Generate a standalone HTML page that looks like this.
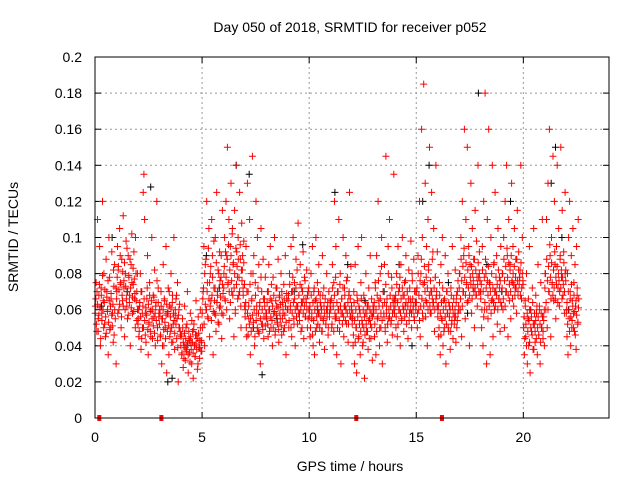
<!DOCTYPE html>
<html><head><meta charset="utf-8"><style>
html,body{margin:0;padding:0;background:#fff}
svg{display:block;font-family:"Liberation Sans",sans-serif}
</style></head><body>
<svg id="c" width="640" height="480" xmlns="http://www.w3.org/2000/svg">
<text x="350" y="32" font-size="14" text-anchor="middle">Day 050 of 2018, SRMTID for receiver p052</text>
<text x="350" y="471" font-size="14" text-anchor="middle">GPS time / hours</text>
<text transform="translate(18,237) rotate(-90)" font-size="14" text-anchor="middle">SRMTID / TECUs</text>
<g id="grid"></g>
<g id="ticks"></g>
<path id="blk" fill="none" stroke="#000" stroke-width="1"/>
<path id="red" fill="none" stroke="#f00" stroke-width="1"/>
<g id="zeros"></g>
<rect x="95" y="57" width="514" height="361" fill="none" stroke="#000" stroke-width="1"/>
</svg>
<script>
const xTicks=[0,5,10,15,20];
const yTicks=[0,0.02,0.04,0.06,0.08,0.1,0.12,0.14,0.16,0.18,0.2];
const yTickLabels=["0","0.02","0.04","0.06","0.08","0.1","0.12","0.14","0.16","0.18","0.2"];
const redHours=[0,1,2,3,4,5,6,7,8,9,10,11,12,13,14,15,16,17,18,19,20,21,22];
const redVals=[
"62 75 48 110 55 68 95 40 72 58 120 65 80 52 45 88 70 60 35 100 78 50 66 92 58 42 73 85 55 30",
"70 95 82 60 105 75 50 88 65 112 72 45 80 98 62 55 90 78 68 40 85 102 58 74 92 66 50 80 70 60",
"55 45 62 80 38 70 50 125 135 110 58 42 66 90 35 52 75 48 60 100 44 68 56 82 40 64 120 50 72 58",
"60 45 70 30 55 85 40 65 50 95 25 58 72 35 62 48 80 42 68 52 100 38 57 66 44 75 20 60 50 46",
"45 35 55 28 40 62 32 50 38 70 25 44 36 58 42 30 48 22 52 40 34 65 46 27 56 39 33 60 43 37",
"50 70 95 40 85 60 120 75 55 105 45 80 65 110 90 35 72 58 100 48 125 68 82 52 92 62 78 44 115 57",
"80 100 65 120 90 150 75 110 55 95 130 70 105 85 45 115 60 140 92 78 100 68 125 88 50 108 82 72 98 62",
"60 95 45 130 70 55 110 35 80 65 145 50 90 40 75 120 58 100 48 85 62 30 105 70 52 88 44 66 78 56",
"55 70 45 85 60 95 50 65 40 78 58 100 48 72 62 52 88 42 68 55 80 46 64 58 74 50 90 35 66 60",
"65 50 80 60 95 45 70 100 55 75 40 88 62 52 108 68 58 85 48 72 64 92 44 78 56 66 82 50 70 60",
"60 45 80 55 95 40 70 35 65 100 50 75 58 85 42 68 62 48 90 55 72 38 66 52 80 60 46 70 56 64",
"65 50 85 40 75 120 55 95 35 70 60 110 48 80 30 66 58 100 45 72 62 90 52 78 42 68 125 56 84 60",
"55 40 70 30 85 50 25 65 95 45 60 35 75 100 52 42 68 22 58 80 48 62 38 72 55 90 44 66 32 58",
"60 45 75 35 90 55 120 65 40 80 50 100 30 70 58 85 48 145 62 42 95 55 110 68 52 78 46 66 135 58",
"65 50 80 45 95 60 72 40 85 55 100 68 48 75 62 90 52 70 44 82 58 66 98 50 76 60 88 54 70 64",
"70 50 90 60 120 45 80 160 100 55 185 75 130 65 95 40 110 85 150 58 70 125 88 62 105 48 78 140 68 92",
"60 45 75 35 85 55 100 40 65 50 90 30 70 58 80 48 62 38 72 52 95 44 66 56 82 42 68 54 76 60",
"80 60 100 45 120 70 90 160 55 110 75 150 65 95 40 85 130 58 105 72 88 50 115 68 98 62 140 78 92 70",
"70 50 95 40 120 60 180 80 30 110 55 160 75 35 100 65 140 45 85 60 125 70 90 52 105 66 78 48 95 62",
"80 60 100 50 120 70 140 90 45 110 65 85 55 130 75 95 62 105 72 88 58 115 68 92 78 82 140 66 100 74",
"50 35 65 45 80 30 55 40 95 25 60 48 72 38 105 52 42 68 58 35 85 46 62 30 75 50 110 44 56 40",
"80 60 110 50 130 70 160 90 45 100 75 145 65 120 85 55 95 140 72 105 62 88 150 78 115 68 92 58 125 82",
"60 45 80 35 100 55 120 70 40 90 50 65 105 58 75 48 85 62 38 95 68 52 110 66"
];
const redVals2=[
"58 66 52 70 63 48 57 74 61 44 68 54 79 60 50 64 71 56 47 67 59 76 53 65 49 62 69 57 51 63 82 46 60 55 72",
"66 78 58 84 71 63 90 74 56 68 81 62 76 86 60 73 66 94 70 57 79 64 88 72 61 75 67 83 59 77 69 100 65 54 80",
"52 60 48 64 56 70 44 58 62 50 66 54 46 61 57 72 49 63 53 68 59 45 65 55 60 51 67 47 58 62 54 76 43 64 56",
"52 58 46 62 55 40 60 49 66 53 44 57 63 48 59 51 70 45 56 61 50 64 42 58 54 47 60 52 68 55 39 57 50 63 48",
"40 46 36 50 42 33 47 39 44 37 52 41 35 48 43 31 45 38 54 42 36 49 40 34 46 41 38 44 30 47 43 39 50 37 42",
"58 66 72 52 80 63 88 60 70 56 94 66 75 62 84 54 68 78 59 98 65 72 57 86 64 70 53 80 61 76 67 90 58 74 69",
"72 84 66 92 78 60 88 74 96 70 82 64 90 76 102 68 86 72 80 58 94 74 84 66 88 78 70 96 62 82 76 90 68 86 74",
"56 64 50 70 58 46 62 52 74 55 48 66 57 80 53 60 45 68 54 62 50 72 58 47 64 55 78 52 60 49 66 56 62 51 58",
"58 64 52 70 60 48 66 56 74 54 62 50 68 59 46 65 57 72 53 61 49 67 58 63 51 70 55 60 48 66 57 62 53 69 60",
"60 68 54 74 62 50 70 58 78 64 52 66 60 72 56 82 62 58 68 54 74 60 64 50 70 58 66 62 76 56 64 60 68 55 72",
"56 62 50 68 58 46 64 54 72 60 48 66 56 62 52 70 58 50 64 56 60 48 68 54 62 58 66 52 60 56 64 50 70 58 62",
"60 66 52 72 62 48 68 58 78 56 64 50 70 60 54 74 62 58 66 52 72 56 62 68 54 60 76 58 64 52 70 60 66 56 62",
"52 58 46 64 54 42 60 50 68 56 44 62 52 58 48 66 54 40 60 50 56 46 64 52 58 48 62 54 44 60 52 58 50 56 62",
"58 64 52 72 60 48 68 56 76 62 50 66 58 84 54 62 70 56 64 50 74 58 66 52 80 60 56 68 62 54 72 58 64 60 66",
"62 68 56 74 64 52 70 60 78 58 66 54 72 62 60 68 56 76 64 58 70 62 66 54 72 60 64 58 80 66 62 56 70 64 60",
"64 72 58 80 68 54 76 62 88 66 58 74 62 84 70 56 78 64 72 60 82 68 62 76 58 70 66 92 64 72 60 78 66 70 62",
"56 62 50 68 58 46 64 54 72 60 48 66 56 62 52 70 58 50 64 56 60 48 68 54 62 58 66 52 60 56 64 50 70 58 62",
"72 80 66 88 76 62 84 70 94 78 68 86 74 64 82 72 90 68 78 74 84 66 80 76 70 88 72 82 68 78 74 86 70 80 76",
"66 74 60 82 70 56 78 64 88 72 60 76 68 84 62 74 70 58 80 66 72 64 86 70 62 78 68 74 60 82 66 72 76 64 70",
"72 80 66 88 76 62 84 70 94 78 68 86 74 82 70 90 76 66 80 74 84 68 78 72 88 76 70 82 74 78 68 86 72 80 76",
"50 56 44 62 52 40 58 48 66 54 42 60 50 56 46 64 52 38 58 48 54 44 62 50 56 46 60 52 42 58 50 56 48 54 60",
"72 80 64 88 76 60 84 70 96 78 66 86 74 68 82 72 92 66 78 74 84 64 80 76 70 90 72 82 66 78 74 86 70 80 76",
"58 64 52 70 60 48 66 56 74 54 62 50 68 59 46 65 57 72 53 61"
];
const redSpans=[1,1,1,1,1,1,1,1,1,1,1,1,1,1,1,1,1,1,1,1,1,1,0.6];
const blackT=[0.3,0.8,1.5,2.6,3.4,3.6,4.3,5.2,5.8,6.6,7.2,7.4,7.8,8.5,9.3,9.7,10.4,11.2,11.8,12.6,13.5,14.2,14.8,15.3,15.6,16.5,17.4,17.9,18.3,19.0,19.4,20.3,21.3,21.5,21.8,22.1];
const blackV=[0.062,0.100,0.070,0.128,0.020,0.022,0.040,0.090,0.072,0.140,0.135,0.050,0.024,0.055,0.070,0.096,0.060,0.125,0.085,0.065,0.070,0.085,0.040,0.120,0.140,0.075,0.058,0.180,0.085,0.070,0.120,0.060,0.130,0.150,0.100,0.060];
const zeroT=[0.2,3.1,12.2,16.2];

const X0=95,X1=609,Y0=418,Y1=57;
const sx=t=>X0+t/24*(X1-X0);
const sy=v=>Y0-v/0.2*(Y0-Y1);
const NS="http://www.w3.org/2000/svg";
function mk(tag,attrs,parent,txt){const e=document.createElementNS(NS,tag);for(const k in attrs)e.setAttribute(k,attrs[k]);if(txt!==undefined)e.textContent=txt;parent.appendChild(e);return e;}
const grid=document.getElementById('grid'),ticks=document.getElementById('ticks');
xTicks.forEach(t=>{
  const x=sx(t);
  if(t>0){const g=mk('line',{x1:x,y1:Y1,x2:x,y2:Y0,stroke:'#999','stroke-dasharray':'2,3'},grid);
  
  }
  mk('line',{x1:x,y1:Y0,x2:x,y2:Y0-6,stroke:'#000'},ticks);
  mk('line',{x1:x,y1:Y1,x2:x,y2:Y1+6,stroke:'#000'},ticks);
  const l=mk('text',{x:x,y:Y0+24,'font-size':14,'text-anchor':'middle'},ticks,String(t));
  
  
});
yTicks.forEach((v,i)=>{
  const y=sy(v);
  if(v>0&&v<0.2){const g=mk('line',{x1:X0,y1:y,x2:X1,y2:y,stroke:'#999','stroke-dasharray':'2,3'},grid);
  
  }
  mk('line',{x1:X0,y1:y,x2:X0+6,y2:y,stroke:'#000'},ticks);
  mk('line',{x1:X1,y1:y,x2:X1-6,y2:y,stroke:'#000'},ticks);
  const l=mk('text',{x:X0-13,y:y+5,'font-size':14,'text-anchor':'end'},ticks,yTickLabels[i]);
  
  
});
function plus(x,y){return `M${(x-3.5).toFixed(1)} ${y.toFixed(1)}h7M${x.toFixed(1)} ${(y-3.5).toFixed(1)}v7`;}
let d='';
function addSet(arr,off){
  redHours.forEach((h,i)=>{
    const vs=arr[i].split(' ').map(Number);
    vs.forEach((v,j)=>{const t=h+(j+off)/vs.length*redSpans[i];d+=plus(sx(t),sy(v/1000));});
  });
}
addSet(redVals,0.5);
addSet(redVals2,0.25);
document.getElementById('red').setAttribute('d',d);
let db='';
blackT.forEach((t,i)=>{db+=plus(sx(t),sy(blackV[i]));});
document.getElementById('blk').setAttribute('d',db);
const zg=document.getElementById('zeros');
zeroT.forEach(t=>{
  const r=mk('rect',{x:sx(t)-2,y:Y0-3,width:4,height:6,fill:'#f00'},zg);
  
  
});
</script>
</body></html>
